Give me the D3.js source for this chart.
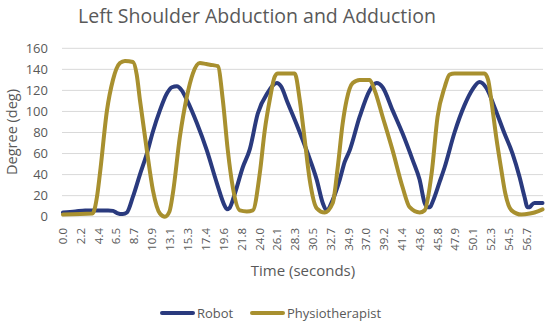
<!DOCTYPE html>
<html><head><meta charset="utf-8">
<script src="https://cdn.jsdelivr.net/npm/d3@7"></script>
<style>body{margin:0;background:#fff;} text{font-family:"Open Sans",sans-serif;}</style>
</head><body><svg id="c" width="550" height="324"></svg>
<script>
const title = "Left Shoulder Abduction and Adduction";
const seriesNames = ["Robot", "Physiotherapist"];
const xTickLabels = ["0.0","2.2","4.4","6.5","8.7","10.9","13.1","15.3","17.4","19.6","21.8","24.0","26.1","28.3","30.5","32.7","34.9","37.0","39.2","41.4","43.6","45.8","47.9","50.1","52.3","54.5","56.7"];
const yTicks = [0,20,40,60,80,100,120,140,160];

const robotTime = [0,1.5,2.7,4.0,5.5,6.1,6.6,7.3,7.8,8.54,9.39,10.24,10.98,11.83,12.68,13.3,13.9,14.5,15.12,16.34,17.56,18.78,19.76,20.0,20.3,20.98,21.95,22.8,23.78,25.0,26.1,26.6,27.44,28.66,29.88,30.98,31.71,32.2,32.93,33.78,34.39,35.0,36.22,37.44,38.29,39.02,40.24,41.46,42.68,43.54,44.15,44.51,44.8,45.12,45.98,46.59,47.8,49.02,50.0,50.85,51.71,52.68,53.9,54.88,55.73,56.34,56.71,57.0,57.2,57.56,58.54];
const robotDeg  = [4,5,6,6,6,5.5,3.5,2.5,4,19,40,60,81,101,117,123,124,120,111,89,63,32,10,7,8,22,47,64,98,118,127,124,108,85,60,35,13,6,16,35,52,63,95,120,127,123,101,79,54,35,13,9,9,14,33,47,80,106,121,128,122,104,79,60,38,19,9,9,11,13,13];

const physioTime = [0,3.6,4.15,4.51,5.37,6.1,6.95,7.56,8.54,9.0,9.39,10.24,10.98,11.83,12.44,13.0,13.41,14.27,15.12,15.85,16.71,17.5,18.3,18.9,19.51,20.12,20.73,21.59,22.44,23.17,24.02,24.63,25.24,25.85,26.22,28.29,28.9,29.51,30.12,30.98,31.95,32.93,33.54,34.15,34.63,35.37,36.22,37.44,38.05,39.02,40.24,41.46,42.32,43.54,44.15,45.0,45.73,46.59,47.2,47.8,51.46,51.9,52.3,52.9,53.5,54.0,54.76,55.98,57.0,57.56,58.54];
const physioDeg  = [2,3,19,41,101,130,146,148,147,135,111,63,25,3,0,5,22,76,114,136,146,145,144,143,111,63,28,6,5,6,41,82,111,133,136,136,111,73,35,8,4,13,47,89,111,127,130,130,120,95,63,28,9,4,6,41,95,123,135,136,136,130,110,75,45,22,6,2,3,4,7];

const colors = ["#2a3a7e", "#a8902f"];

const svg = d3.select("#c");
const x = d3.scaleLinear().domain([0, 58.6]).range([63, 543]);
const y = d3.scaleLinear().domain([0, 160]).range([216.7, 48.3]);

svg.append("g").selectAll("line").data(yTicks).join("line")
  .attr("x1", 62).attr("x2", 543)
  .attr("y1", d => y(d)).attr("y2", d => y(d))
  .attr("stroke", "#d9d9d9").attr("stroke-width", 1);

svg.append("g").selectAll("text").data(yTicks).join("text")
  .attr("x", 48).attr("y", d => y(d)).attr("dy", "0.35em")
  .attr("text-anchor", "end").attr("font-size", 13).attr("fill", "#595959")
  .text(d => d);

svg.append("g").selectAll("text").data(xTickLabels).join("text")
  .attr("transform", d => `translate(${x(+d)},228) rotate(-90)`)
  .attr("dy", "0.35em").attr("text-anchor", "end")
  .attr("font-size", 11.5).attr("fill", "#595959")
  .text(d => d);

const line = d3.line().x(d => x(d[0])).y(d => y(d[1])).curve(d3.curveMonotoneX);
const robot = robotTime.map((t, i) => [t, robotDeg[i]]);
const physio = physioTime.map((t, i) => [t, physioDeg[i]]);

[robot, physio].forEach((data, i) => {
  svg.append("path").datum(data).attr("d", line)
    .attr("fill", "none").attr("stroke", colors[i]).attr("stroke-width", 4)
    .attr("stroke-linejoin", "round").attr("stroke-linecap", "round");
});

svg.append("text").attr("x", 257).attr("y", 23).attr("text-anchor", "middle")
  .attr("font-size", 19.5).attr("fill", "#595959").text(title);

svg.append("text").attr("transform", "translate(17,132) rotate(-90)")
  .attr("text-anchor", "middle").attr("font-size", 14.5).attr("fill", "#595959")
  .text("Degree (deg)");
svg.append("text").attr("x", 303).attr("y", 276).attr("text-anchor", "middle")
  .attr("font-size", 15).attr("fill", "#595959").text("Time (seconds)");

const legX = [162, 252];
seriesNames.forEach((name, i) => {
  svg.append("line").attr("x1", legX[i]).attr("x2", legX[i] + 31)
    .attr("y1", 313).attr("y2", 313)
    .attr("stroke", colors[i]).attr("stroke-width", 4).attr("stroke-linecap", "round");
  svg.append("text").attr("x", legX[i] + 35).attr("y", 313).attr("dy", "0.35em")
    .attr("font-size", 13).attr("fill", "#595959").text(name);
});
</script></body></html>
